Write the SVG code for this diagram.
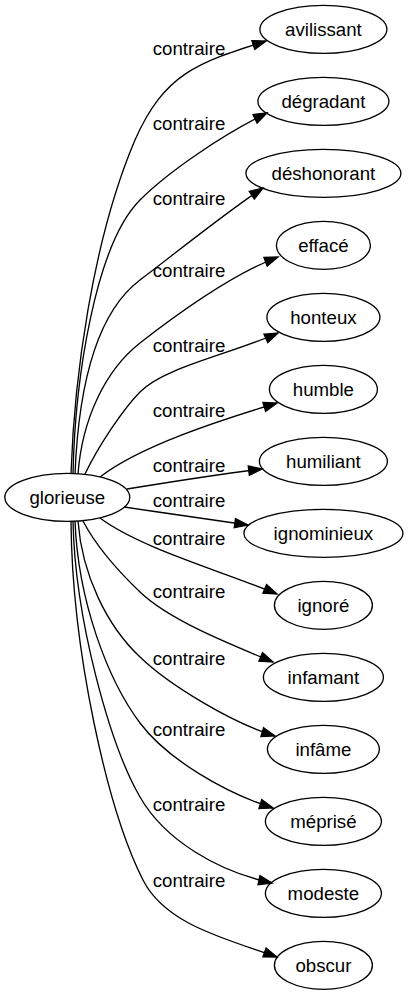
<svg xmlns="http://www.w3.org/2000/svg" width="408" height="995" viewBox="0 0 408 995">
<style>
.n ellipse{fill:none;stroke:#000;stroke-width:1.33}
text{font-family:"Liberation Sans",Arial,sans-serif;font-size:18.67px;fill:#000;text-anchor:middle}
.e path{fill:none;stroke:#000;stroke-width:1.33;marker-end:url(#arr)}
</style>
<defs>
<marker id="arr" markerUnits="userSpaceOnUse" markerWidth="16" markerHeight="12" refX="13.3" refY="4.67" orient="auto" overflow="visible">
<path d="M0,0 L13.3,4.67 L0,9.33 Z" fill="#000" stroke="#000" stroke-width="1.33"/>
</marker>
</defs>
<rect width="408" height="995" fill="#fff"/>
<g id="edges" class="e">
<path d="M71,474 C74,380 92,241 135,140 C165,72 200,62 266,41"/>
<path d="M73,474 C75,380 95,245 140,200 C168,172 222,135 267,113"/>
<path d="M75,474 C78,400 92,316 140,280 C172,256 229,210 263,188"/>
<path d="M78,474 C82,420 104.6,370.8 140,343 C185,308 238,272 278,257"/>
<path d="M85,474 C98.5,446 122.5,409.8 140,392 C164.5,367 232.5,353.5 278,333"/>
<path d="M100,477 C140,446 219.6,420.4 277,403"/>
<path d="M127,489 C170,482 220,474 262,469"/>
<path d="M124,507 C165,513 205,519 248,525"/>
<path d="M100,518 C140,548 221.6,570.9 277,594"/>
<path d="M83,521 C96.5,547 122,574.75 140,592 C168.8,619.6 227,643 273,662"/>
<path d="M78,521 C82,575 107,626 140,657 C169,685 232,723 275,736"/>
<path d="M75,521 C78,600 107,679 140,723 C167,759 225,793 273,808"/>
<path d="M73,521 C75,620 110,745 140,797 C165,840.5 218,871.5 272,883"/>
<path d="M71,521 C72,650 107,809 143,880 C165.5,924.5 225,938.5 277,957"/>
</g>
<g id="edge-labels">
<text x="189" y="55">contraire</text>
<text x="189" y="130">contraire</text>
<text x="189" y="205">contraire</text>
<text x="189" y="277">contraire</text>
<text x="189" y="352">contraire</text>
<text x="189" y="417">contraire</text>
<text x="189" y="472">contraire</text>
<text x="189" y="507">contraire</text>
<text x="189" y="545">contraire</text>
<text x="189" y="598">contraire</text>
<text x="189" y="665">contraire</text>
<text x="189" y="736">contraire</text>
<text x="189" y="811">contraire</text>
<text x="189" y="887">contraire</text>
</g>
<g id="n-glorieuse" class="n"><ellipse cx="67.3" cy="497.3" rx="62.5" ry="24"/><text x="67.3" y="503.6">glorieuse</text></g>
<g id="n-avilissant" class="n"><ellipse cx="323.4" cy="29.3" rx="63.5" ry="24"/><text x="323.4" y="35.6">avilissant</text></g>
<g id="n-degradant" class="n"><ellipse cx="323.4" cy="101.3" rx="65.5" ry="24"/><text x="323.4" y="107.6">dégradant</text></g>
<g id="n-deshonorant" class="n"><ellipse cx="323.4" cy="173.3" rx="77.5" ry="24"/><text x="323.4" y="179.6">déshonorant</text></g>
<g id="n-efface" class="n"><ellipse cx="323.4" cy="245.3" rx="47" ry="24"/><text x="323.4" y="251.6">effacé</text></g>
<g id="n-honteux" class="n"><ellipse cx="323.4" cy="317.3" rx="56.5" ry="24"/><text x="323.4" y="323.6">honteux</text></g>
<g id="n-humble" class="n"><ellipse cx="323.4" cy="389.3" rx="54" ry="24"/><text x="323.4" y="395.6">humble</text></g>
<g id="n-humiliant" class="n"><ellipse cx="323.4" cy="461.3" rx="64" ry="24"/><text x="323.4" y="467.6">humiliant</text></g>
<g id="n-ignominieux" class="n"><ellipse cx="323.4" cy="533.3" rx="79.5" ry="24"/><text x="323.4" y="539.6">ignominieux</text></g>
<g id="n-ignore" class="n"><ellipse cx="323.4" cy="605.3" rx="49" ry="24"/><text x="323.4" y="611.6">ignoré</text></g>
<g id="n-infamant" class="n"><ellipse cx="323.4" cy="677.3" rx="60" ry="24"/><text x="323.4" y="683.6">infamant</text></g>
<g id="n-infame" class="n"><ellipse cx="323.4" cy="749.3" rx="56" ry="24"/><text x="323.4" y="755.6">infâme</text></g>
<g id="n-meprise" class="n"><ellipse cx="323.4" cy="821.3" rx="58" ry="24"/><text x="323.4" y="827.6">méprisé</text></g>
<g id="n-modeste" class="n"><ellipse cx="323.4" cy="893.3" rx="58" ry="24"/><text x="323.4" y="899.6">modeste</text></g>
<g id="n-obscur" class="n"><ellipse cx="323.4" cy="965.3" rx="49" ry="24"/><text x="323.4" y="971.6">obscur</text></g>
</svg>
